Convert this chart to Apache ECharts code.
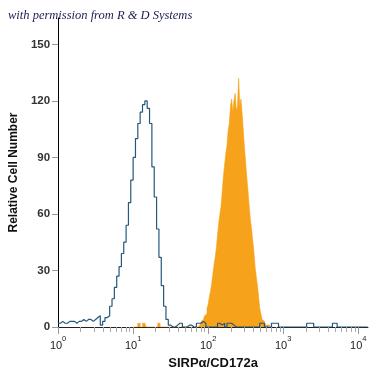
<!DOCTYPE html>
<html><head><meta charset="utf-8">
<script src="https://cdn.jsdelivr.net/npm/echarts@6/dist/echarts.min.js"></script>
<style>html,body{margin:0;padding:0;background:#fff}#c{width:375px;height:375px}</style>
</head><body><div id="c"></div>
<script>
// x axis is in log10 units (decade exponents)
const decadeExponents = [0, 1, 2, 3, 4];
const xMaxExponent = 4.13;
const yTickValues = [0, 30, 60, 90, 120, 150];
const yMax = 164;

// Control (open histogram), bins of 1/32 decade starting at 10^0
const controlBinStart = 0;
const controlBinWidth = 1 / 32;
const controlCounts = [
  2,3,2,2,3,3,3,2,3,3,
  4,3,4,4,3,4,5,6,1,3,
  5,6,11,15,21,27,32,39,45,54,
  66,78,90,100,108,114,118,120,116,108,
  85,69,52,37,22,11,4,1,0,0,
  1,2,2,0,0,1,1,0,0,2,
  2,3,2,0,0,0,0,0,2,1,
  2,0,2,2,1,0,0,0,0,0,
  0,0,0,0,0,0,2,2,0,0,
  0,2,2,2,0,0,0,0,0,0,
  0,0,0,0,0,0,2,2,2,0,
  0,0,0,0,0,0,0,2,2,0,
  0,0,0,0,0,0,0,0,0,0,0,0
];

// Stained (filled histogram), bins of 1/64 decade starting at 10^1
const stainedBinStart = 1;
const stainedBinWidth = 1 / 64;
const stainedCounts = [
  0,0,0,0,2,2,0,0,2,2,
  2,0,0,0,0,0,0,0,0,0,
  0,2,2,0,0,0,0,0,0,0,
  0,0,0,0,0,0,0,0,0,0,
  0,0,0,0,0,0,0,0,0,0,
  0,0,0,0,0,0,
  1,2,3,4,4,6,7,10,12,16,
  19,23,28,33,37,42,49,55,60,64,
  72,80,86,92,96,104,108,117,121,114,
  120,124,115,117,132,117,121,113,104,95,
  87,79,72,64,57,52,46,40,32,27,
  22,16,10,7,4,3,2,1,1,2,1
];

function stepData(start, width, counts) {
  const d = counts.map((v, i) => [start + i * width, v]);
  d.push([start + counts.length * width, counts[counts.length - 1]]);
  return d;
}

const minorTicks = [];
for (let n = 0; n <= 4; n++) {
  for (let k = 1; k <= 9; k++) {
    const e = n + Math.log10(k);
    if (e <= xMaxExponent) minorTicks.push(e);
  }
}

const chart = echarts.init(document.getElementById('c'), null, {renderer: 'canvas'});
const labelRich = {
  b: {fontSize: 11, color: '#222', fontFamily: 'Liberation Sans', lineHeight: 16, verticalAlign: 'bottom'},
  s: {fontSize: 7.5, color: '#222', fontFamily: 'Liberation Sans', lineHeight: 16, verticalAlign: 'top'}
};
chart.setOption({
  animation: false,
  backgroundColor: '#fff',
  grid: {left: 55, right: 7, top: 18, bottom: 47, containLabel: false},
  graphic: [{
    type: 'text', left: 8, top: 9,
    style: {text: 'with permission from R & D Systems', font: 'italic 12.5px "Liberation Serif"', fill: '#1a1f4f'}
  }],
  xAxis: [{
    type: 'value', min: 0, max: xMaxExponent,
    axisLine: {show: true, onZero: false, lineStyle: {color: '#222', width: 1}},
    axisTick: {show: true, customValues: minorTicks, length: 5, lineStyle: {color: '#aaa', width: 1}},
    axisLabel: {
      customValues: decadeExponents, margin: 8,
      formatter: v => '{b|10}{s|' + v + '}', rich: labelRich
    },
    splitLine: {show: false},
    name: 'SIRPα/CD172a', nameLocation: 'middle', nameGap: 30,
    nameTextStyle: {fontWeight: 'bold', fontSize: 13, color: '#111', fontFamily: 'Liberation Sans'}
  }, {
    type: 'value', min: 0, max: xMaxExponent, position: 'bottom',
    axisLine: {show: false},
    axisTick: {show: true, customValues: decadeExponents, length: 7, lineStyle: {color: '#999', width: 1}},
    axisLabel: {show: false},
    splitLine: {show: false}
  }],
  yAxis: {
    type: 'value', min: 0, max: yMax,
    axisLine: {show: true, lineStyle: {color: '#000', width: 1}},
    axisTick: {show: true, customValues: yTickValues, length: 6, lineStyle: {color: '#999'}},
    axisLabel: {customValues: yTickValues, fontWeight: 'bold', fontSize: 11.5, color: '#333', margin: 8, fontFamily: 'Liberation Sans'},
    splitLine: {show: false},
    name: 'Relative Cell Number', nameLocation: 'middle', nameGap: 36,
    nameTextStyle: {fontWeight: 'bold', fontSize: 12, color: '#111', fontFamily: 'Liberation Sans'}
  },
  series: [{
    type: 'line', step: 'end', symbol: 'none', xAxisIndex: 0,
    data: stepData(stainedBinStart, stainedBinWidth, stainedCounts),
    lineStyle: {width: 0.6, color: '#F7A21B'},
    areaStyle: {color: '#F7A21B', opacity: 1}
  }, {
    type: 'line', step: 'end', symbol: 'none', xAxisIndex: 0,
    data: stepData(controlBinStart, controlBinWidth, controlCounts),
    lineStyle: {width: 1.2, color: '#23587c'}
  }]
});
</script>
</body></html>
